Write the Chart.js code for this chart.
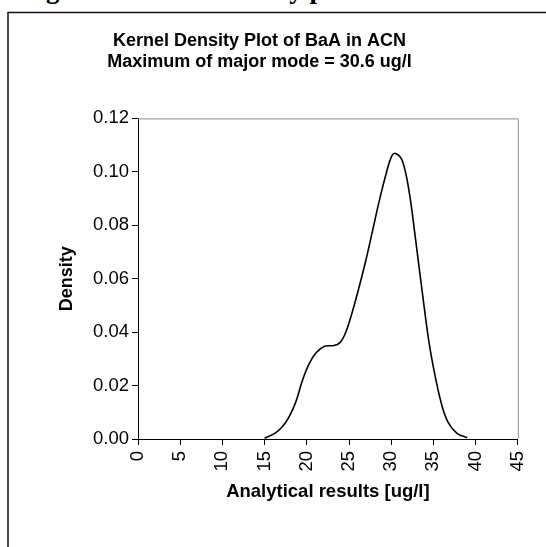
<!DOCTYPE html>
<html>
<head>
<meta charset="utf-8">
<script src="https://cdn.jsdelivr.net/npm/chart.js@4.4.1/dist/chart.umd.min.js"></script>
<style>
  html, body { margin: 0; padding: 0; background: #fff; overflow: hidden; }
  #wrap { position: absolute; left: 0; top: 0; width: 546px; height: 547px; }
  #heading {
    position: absolute; left: 22px; top: -24px; white-space: nowrap;
    font: bold 27px "Liberation Serif", "Times New Roman", serif; line-height: 1;
  }
</style>
</head>
<body>
<div id="heading">Figure 5: Kernel density plot</div>
<div id="wrap"><canvas id="kdeChart"></canvas></div>
<script>
// curve (x in ug/l, density)
const densityX = [15.0, 16.2, 17.1, 17.9, 18.7, 19.5, 20.3, 21.1, 22.1, 23.2, 23.9, 24.5, 25.2, 26.2, 27.0,
                  27.8, 28.6, 29.4, 30.1, 30.6, 31.3, 32.1, 32.9, 33.7, 34.5, 35.3, 36.05, 36.8, 37.8, 39.0];
const densityY = [0.0003, 0.0021, 0.0046, 0.0083, 0.0139, 0.0221, 0.0283, 0.0323, 0.0347, 0.0350, 0.0360, 0.0390, 0.0455, 0.0569, 0.0669,
                  0.0781, 0.0893, 0.0993, 0.1062, 0.1068, 0.1043, 0.0931, 0.0744, 0.0545, 0.0358, 0.0221, 0.0121, 0.0059, 0.0021, 0.0005];
const xTicks = [0, 5, 10, 15, 20, 25, 30, 35, 40, 45];
const yTicks = [0, 0.02, 0.04, 0.06, 0.08, 0.10, 0.12];
const titleLines = ['Kernel Density Plot of BaA in ACN', 'Maximum of major mode = 30.6 ug/l'];

const sans = '"Liberation Sans", Arial, sans-serif';

// grey box round the plot + the outer black frame
const frames = {
    id: 'frames',
    beforeDatasetsDraw(chart) {
        const { ctx, chartArea: a } = chart;
        ctx.save();
        ctx.strokeStyle = '#8c8c8c';
        ctx.lineWidth = 1;
        ctx.beginPath();
        ctx.moveTo(a.left, a.top + 0.5);
        ctx.lineTo(a.right + 0.5, a.top + 0.5);
        ctx.lineTo(a.right + 0.5, a.bottom);
        ctx.stroke();
        ctx.restore();
    },
    afterDraw(chart) {
        const ctx = chart.ctx;
        ctx.save();
        ctx.strokeStyle = '#111';
        ctx.lineWidth = 1.5;
        ctx.strokeRect(8, 12.5, 600, 600);
        ctx.restore();
    }
};

new Chart(document.getElementById('kdeChart'), {
    type: 'line',
    data: {
        datasets: [{
            data: densityX.map((x, i) => ({ x: x, y: densityY[i] })),
            borderColor: '#000',
            borderWidth: 1.6,
            pointRadius: 0,
            fill: false,
            tension: 0.4
        }]
    },
    options: {
        responsive: true,
        maintainAspectRatio: false,
        animation: false,
        layout: { padding: { left: 0, right: 27, top: 0, bottom: 0 } },
        plugins: {
            legend: { display: false },
            tooltip: { enabled: false },
            title: {
                display: true,
                text: titleLines,
                color: '#000',
                font: { family: sans, size: 18, weight: 'bold', lineHeight: 1.15 },
                padding: { top: 31, bottom: 46 }
            }
        },
        scales: {
            x: {
                type: 'linear',
                min: 0, max: 45,
                afterBuildTicks: (s) => { s.ticks = xTicks.map(v => ({ value: v })); },
                afterFit: (s) => { s.height = 108; },
                ticks: {
                    color: '#000',
                    font: { family: sans, size: 18.5 },
                    minRotation: 90, maxRotation: 90,
                    padding: 6,
                    callback: (v) => String(v)
                },
                grid: { drawOnChartArea: false, drawTicks: true, tickLength: 6, color: '#000' },
                border: { display: true, color: '#000', width: 1 },
                title: {
                    display: true,
                    text: 'Analytical results [ug/l]',
                    color: '#000',
                    font: { family: sans, size: 18.5, weight: 'bold', lineHeight: 1.2 },
                    padding: { top: 0, bottom: 44 }
                }
            },
            y: {
                min: 0, max: 0.12,
                afterBuildTicks: (s) => { s.ticks = yTicks.map(v => ({ value: v })); },
                afterFit: (s) => { s.width = 138; },
                ticks: {
                    color: '#000',
                    font: { family: sans, size: 18.5 },
                    padding: 3,
                    callback: (v) => v.toFixed(2)
                },
                grid: { drawOnChartArea: false, drawTicks: true, tickLength: 6, color: '#000' },
                border: { display: true, color: '#000', width: 1 },
                title: {
                    display: true,
                    text: 'Density',
                    color: '#000',
                    font: { family: sans, size: 18, weight: 'bold', lineHeight: 1.2 },
                    padding: { top: 56, bottom: 0 }
                }
            }
        }
    },
    plugins: [frames]
});
</script>
</body>
</html>
